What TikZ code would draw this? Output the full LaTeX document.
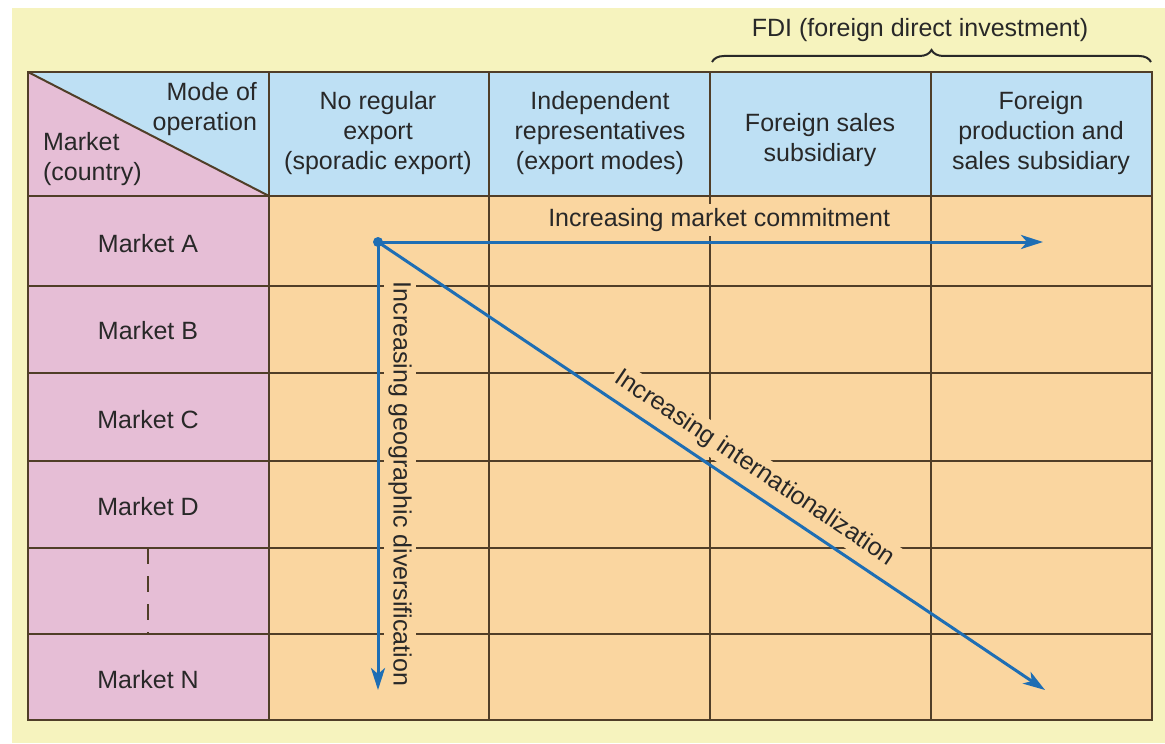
\documentclass[tikz,border=0pt]{standalone}
\usepackage{fontspec}
\setmainfont{Liberation Sans}
\usetikzlibrary{arrows.meta,decorations.pathreplacing}
\definecolor{paper}{RGB}{246,243,190}
\definecolor{marketpink}{RGB}{230,190,214}
\definecolor{headblue}{RGB}{190,224,244}
\definecolor{cellorange}{RGB}{250,214,160}
\definecolor{gridbrown}{RGB}{80,62,40}
\definecolor{arrowblue}{RGB}{30,110,180}
\definecolor{inktext}{RGB}{40,40,40}
\tikzset{
  grid/.style={draw=gridbrown,line width=1pt},
  trend/.style={draw=arrowblue,line width=1.5pt,-{Stealth[length=11pt,width=7pt,inset=3pt]}},
  trendlabel/.style={fill=cellorange,inner sep=2pt,sloped,above=3pt},
  head/.style={align=center}
}
\begin{document}
\begin{tikzpicture}[x=0.5pt,y=-0.5pt,font=\fontsize{12.5}{15}\selectfont,text=inktext]
  \useasboundingbox (0,0) rectangle (1165,743);
  % paper and cells
  \fill[white] (0,0) rectangle (1165,743);
  \fill[paper] (12,8) rectangle (1165,743);
  \fill[cellorange] (269,196) rectangle (1152,720);
  \fill[headblue] (28,72) rectangle (1152,196);
  \fill[marketpink] (28,196) rectangle (269,720);
  \fill[marketpink] (28,72) -- (269,196) -- (28,196) -- cycle;
  % grid
  \foreach \x in {269,489,710,931}
    \draw[grid] (\x,72) -- (\x,720);
  \foreach \y in {196,286,373,461,548,634}
    \draw[grid] (28,\y) -- (1152,\y);
  \draw[grid] (28,72) -- (269,196);
  \draw[grid] (28,72) rectangle (1152,720);
  \draw[gridbrown,line width=0.8pt,dash pattern=on 8pt off 6pt] (148,548) -- (148,634);
  % headers
  \node[align=right,anchor=east] (hdrmode) at (264,109) {Mode of\\operation};
  \node[align=left,anchor=west] (hdrmarket) at (36,159) {Market\\(country)};
  \node[head] (hdrsporadic) at (378,133) {No regular\\export\\(sporadic export)};
  \node[head] (hdrexport) at (600,133) {Independent\\representatives\\(export modes)};
  \node[head] (hdrsales) at (820,140) {Foreign sales\\subsidiary};
  \node[head] (hdrproduction) at (1041,133) {Foreign\\production and\\sales subsidiary};
  \draw[inktext,line width=1pt,decorate,decoration={brace,amplitude=6pt}]
    (712,62) -- (1151,62);
  \node (fdi) at (920,30) {FDI (foreign direct investment)};
  % markets
  \foreach \y/\name in {244/A,331/B,420/C,507/D,680/N}
    \node (market\name) at (148,\y) {Market \name};
  % trends
  \coordinate (origin) at (378,242);
  \coordinate (commitend) at (1043,242);
  \coordinate (geoend) at (378,690);
  \coordinate (interend) at (1045,690);
  \path (origin) -- node[trendlabel,pos=0.513] (commitlabel) {Increasing market commitment} (commitend);
  \path (origin) -- node[trendlabel,pos=0.54] (geolabel) {Increasing geographic diversification} (geoend);
  \path (origin) -- node[trendlabel,pos=0.546] (interlabel) {Increasing internationalization} (interend);
  \draw[trend] (origin) -- (commitend);
  \draw[trend] (origin) -- (geoend);
  \draw[trend] (origin) -- (interend);
  \fill[arrowblue] (origin) circle (2.5pt);
\end{tikzpicture}
\end{document}
